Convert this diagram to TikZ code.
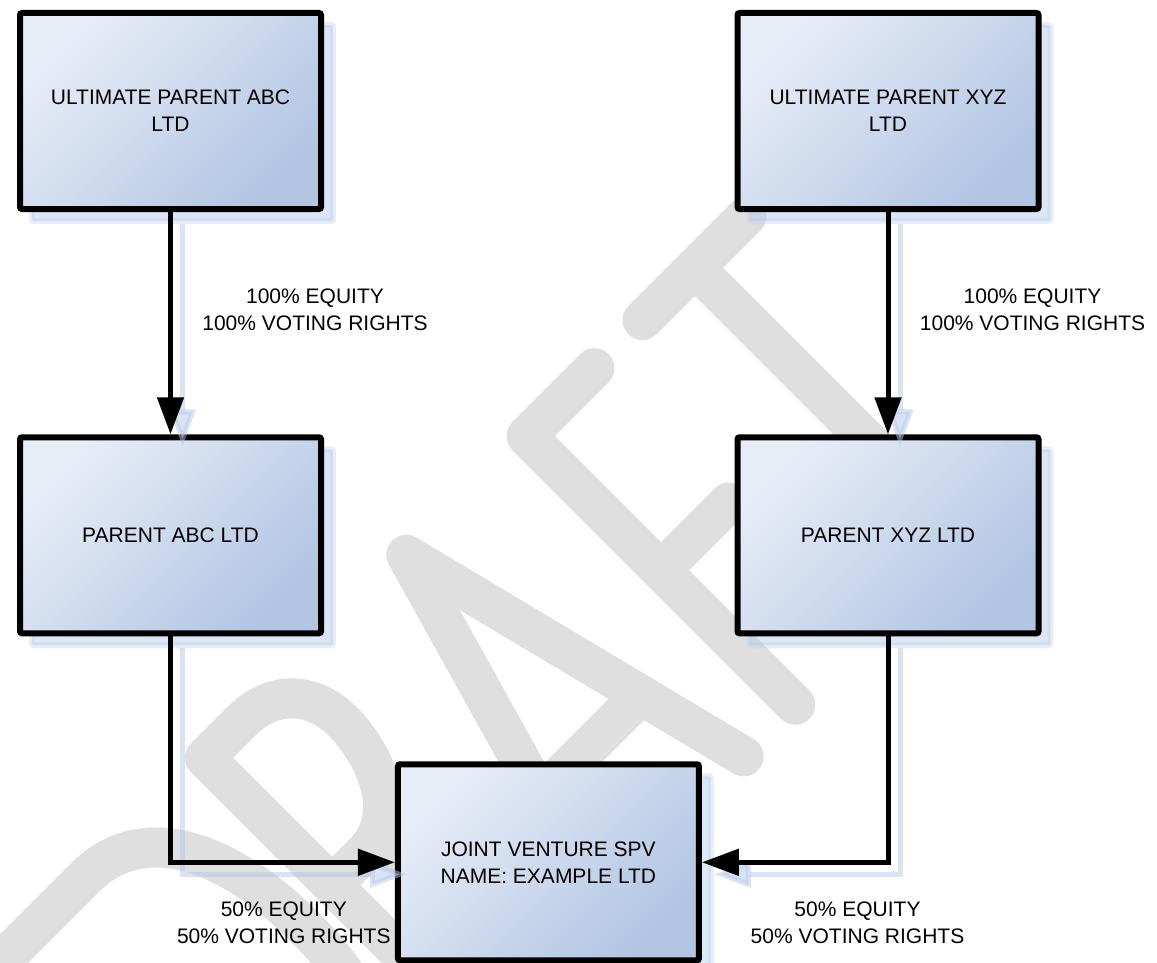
\documentclass[tikz,border=0pt]{standalone}
\usepackage{fontspec}
\setmainfont{Liberation Sans}
\usetikzlibrary{arrows.meta,backgrounds}
\definecolor{boxlight}{RGB}{231,237,247}
\definecolor{boxdark}{RGB}{178,197,227}
\definecolor{shadowblue}{RGB}{180,199,232}
\definecolor{wmgray}{RGB}{223,223,223}
\begin{document}
\begin{tikzpicture}[x=1pt,y=-1pt,
  box/.style={draw=black, line width=6pt, rounded corners=2pt,
    top color=boxlight, bottom color=boxdark, shading angle=45,
    minimum width=301pt, minimum height=196pt, inner sep=0pt,
    align=center, font=\fontsize{21}{27}\selectfont},
  boxshadow/.style={fill=shadowblue, fill opacity=0.45, draw=shadowblue,
    draw opacity=0.3, line width=6pt, rounded corners=2pt},
  conn/.style={draw=black, line width=5pt, -{Triangle[length=37pt,width=26pt]}},
  connshadow/.style={draw=shadowblue, opacity=0.5, line width=5pt,
    -{Triangle[length=37pt,width=26pt]}},
  lbl/.style={align=center, font=\fontsize{21}{27.3}\selectfont, inner sep=0pt},
  wm/.style={draw=wmgray, line width=40pt, line cap=round, line join=round}]
\useasboundingbox (0,0) rectangle (1157,963);
% boxes
\node[box] (ua) at (170.5,111) {ULTIMATE PARENT ABC\\LTD};
\node[box] (ux) at (888,111) {ULTIMATE PARENT XYZ\\LTD};
\node[box] (pa) at (170.5,535.3) {PARENT ABC LTD};
\node[box] (px) at (888,535.3) {PARENT XYZ LTD};
\node[box] (jv) at (548.4,862.3) {JOINT VENTURE SPV\\NAME: EXAMPLE LTD};
\begin{pgfonlayer}{background}
  % watermark
  \begin{scope}
  \clip (0,0) rectangle (1157,963);
  \begin{scope}[shift={(750pt,-750pt)}, rotate=45, x=1pt, y=1pt]
    \draw[wm] (-700,0) -- (-700,380) -- (-560,380) .. controls (-480,380) and (-440,300) .. (-440,190) .. controls (-440,80) and (-480,0) .. (-560,0) -- cycle;
    \draw[wm] (-391,0) -- (-391,380) -- (-340,380) .. controls (-290,380) and (-265,345) .. (-268,300) .. controls (-272,245) and (-300,200) .. (-345,200) -- (-391,200);
    \draw[wm] (-330,200) -- (-262,0);
    \draw[wm] (-214,0) -- (-105,381) -- (-9,0);
    \draw[wm] (-181,116) -- (-38,116);
    \draw[wm] (64,0) -- (64,380) -- (160,380);
    \draw[wm] (64,190) -- (160,190);
    \draw[wm] (228,380) -- (375,380);
    \draw[wm] (302,380) -- (302,0);
  \end{scope}
  \end{scope}
  % box shadows
  \foreach \n in {ua,ux,pa,px,jv}
    \path[boxshadow] ([shift={(15,15)}]\n.north west) rectangle ([shift={(9,9)}]\n.south east);
\end{pgfonlayer}
% connector shadows
\draw[connshadow] ([shift={(12,12)}]ua.south) -- ([shift={(12,12)}]pa.north);
\draw[connshadow] ([shift={(12,12)}]ux.south) -- ([shift={(12,12)}]px.north);
\draw[connshadow] ([shift={(12,12)}]pa.south) |- ([shift={(12,12)}]jv.west);
\draw[connshadow] ([shift={(12,12)}]px.south) |- ([shift={(12,12)}]jv.east);
% connectors
\draw[conn] (ua.south) -- (pa.north);
\draw[conn] (ux.south) -- (px.north);
\draw[conn] (pa.south) |- (jv.west);
\draw[conn] (px.south) |- (jv.east);
% labels
\node[lbl] (l1) at (315,309.7) {100\% EQUITY\\100\% VOTING RIGHTS};
\node[lbl] (l2) at (1032.5,309.7) {100\% EQUITY\\100\% VOTING RIGHTS};
\node[lbl] (l3) at (283.8,922.8) {50\% EQUITY\\50\% VOTING RIGHTS};
\node[lbl] (l4) at (857.5,922.8) {50\% EQUITY\\50\% VOTING RIGHTS};
\end{tikzpicture}
\end{document}
